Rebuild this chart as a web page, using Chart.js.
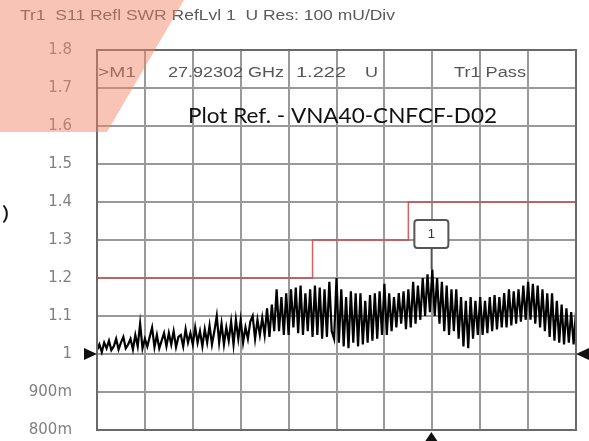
<!DOCTYPE html>
<html>
<head>
<meta charset="utf-8">
<script src="https://cdn.jsdelivr.net/npm/chart.js@4.4.1/dist/chart.umd.min.js"></script>
<style>
  html, body { margin: 0; padding: 0; background: #fff; }
  #wrap { width: 589px; height: 441px; position: relative; }
</style>
</head>
<body>
<div id="wrap"><canvas id="swrChart"></canvas></div>
<script>
// sweep: 0..40 GHz, 201 points
const startGHz = 0;
const stepGHz = 0.2;
const swr = [
  1.01, 1.025, 1.005, 1.03, 1.015,    1.035, 1.01, 1.02, 1.04, 1.012,
  1.03, 1.045, 1.015, 1.025, 1.04,    1.012, 1.05, 1.02, 1.08, 1.015,
  1.04, 1.02, 1.045, 1.07, 1.018,     1.05, 1.015, 1.035, 1.055, 1.02,
  1.055, 1.025, 1.06, 1.018, 1.045,   1.05, 1.02, 1.065, 1.03, 1.055,
  1.025, 1.07, 1.03, 1.06, 1.02,      1.065, 1.03, 1.075, 1.025, 1.06,
  1.1, 1.03, 1.08, 1.025, 1.07,       1.035, 1.085, 1.025, 1.09, 1.04,
  1.09, 1.03, 1.07, 1.04, 1.085,      1.1, 1.04, 1.09, 1.05, 1.095,
  1.05, 1.12, 1.045, 1.13, 1.06,      1.17, 1.06, 1.15, 1.05, 1.16,
  1.05, 1.17, 1.07, 1.175, 1.055,     1.18, 1.05, 1.16, 1.06, 1.17,
  1.045, 1.18, 1.05, 1.175, 1.04,     1.17, 1.045, 1.19, 1.06, 1.04,
  1.2, 1.03, 1.17, 1.02, 1.15,        1.015, 1.165, 1.03, 1.16, 1.02,
  1.16, 1.025, 1.14, 1.03, 1.155,     1.035, 1.16, 1.04, 1.165, 1.05,
  1.185, 1.05, 1.16, 1.06, 1.15,      1.07, 1.16, 1.08, 1.165, 1.065,
  1.17, 1.07, 1.19, 1.08, 1.18,       1.09, 1.2, 1.1, 1.21, 1.11,
  1.222, 1.1, 1.2, 1.08, 1.19,        1.06, 1.18, 1.05, 1.17, 1.06,
  1.17, 1.04, 1.15, 1.02, 1.14,       1.015, 1.15, 1.04, 1.14, 1.05,
  1.15, 1.05, 1.14, 1.055, 1.15,      1.06, 1.155, 1.065, 1.15, 1.07,
  1.16, 1.07, 1.17, 1.075, 1.165,     1.08, 1.17, 1.085, 1.18, 1.09,
  1.19, 1.09, 1.185, 1.08, 1.18,      1.07, 1.17, 1.06, 1.16, 1.045,
  1.16, 1.035, 1.14, 1.03, 1.13,      1.025, 1.12, 1.03, 1.11, 1.025,
  1.11
];

// SWR limit line (stepped)
const limitGHz = [0, 18, 18, 26, 26, 40];
const limitSwr = [1.2, 1.2, 1.3, 1.3, 1.4, 1.4];

const yTickLabels = ['800m', '900m', '1', '1.1', '1.2', '1.3', '1.4', '1.5', '1.6', '1.7', '1.8'];

const markerGHz = 27.92302;
const markerSwr = 1.222;
const refLevel = 1;

const headerText = 'Tr1  S11 Refl SWR RefLvl 1  U Res: 100 mU/Div';
const plotRefText = 'Plot Ref. - VNA40-CNFCF-D02';

// draw text squeezed/stretched to a given width
function fitText(ctx, text, x, y, width, font, color, baseline) {
  ctx.save();
  ctx.font = font;
  ctx.fillStyle = color;
  ctx.textAlign = 'left';
  ctx.textBaseline = baseline || 'middle';
  const w = ctx.measureText(text).width;
  ctx.translate(x, y);
  ctx.scale(width / w, 1);
  ctx.fillText(text, 0, 0);
  ctx.restore();
}

function tri(ctx, pts, color) {
  ctx.beginPath();
  ctx.moveTo(pts[0][0], pts[0][1]);
  ctx.lineTo(pts[1][0], pts[1][1]);
  ctx.lineTo(pts[2][0], pts[2][1]);
  ctx.closePath();
  ctx.fillStyle = color;
  ctx.fill();
}

const vnaOverlay = {
  id: 'vnaOverlay',
  afterDraw(chart) {
    const ctx = chart.ctx;
    const a = chart.chartArea;
    const xs = chart.scales.x, ys = chart.scales.y;

    // frame
    ctx.save();
    ctx.strokeStyle = '#6a6a6a';
    ctx.lineWidth = 2;
    ctx.strokeRect(a.left, a.top, a.right - a.left, a.bottom - a.top);

    // ref level arrows + marker stimulus arrow
    const yRef = ys.getPixelForValue(refLevel);
    tri(ctx, [[a.left - 13, yRef - 6], [a.left, yRef], [a.left - 13, yRef + 6]], '#111');
    tri(ctx, [[a.right + 13, yRef - 6], [a.right, yRef], [a.right + 13, yRef + 6]], '#111');
    const xm = xs.getPixelForValue(markerGHz);
    tri(ctx, [[xm - 6, a.bottom + 11], [xm, a.bottom + 2], [xm + 6, a.bottom + 11]], '#111');

    // marker "1" box
    const yPeak = ys.getPixelForValue(markerSwr);
    const yBox = ys.getPixelForValue(1.316);
    ctx.strokeStyle = '#555';
    ctx.lineWidth = 1.5;
    ctx.beginPath();
    ctx.moveTo(xm, yBox + 14);
    ctx.lineTo(xm, yPeak);
    ctx.stroke();
    ctx.fillStyle = '#fff';
    ctx.lineWidth = 2;
    ctx.beginPath();
    ctx.roundRect(xm - 17, yBox - 14, 34, 28, 3);
    ctx.fill();
    ctx.stroke();
    ctx.font = '13px "Liberation Sans"';
    ctx.fillStyle = '#333';
    ctx.textAlign = 'center';
    ctx.textBaseline = 'middle';
    ctx.fillText('1', xm, yBox + 1);
    ctx.restore();

    // header + marker readout
    fitText(ctx, headerText, 20, 16, 375, '15px "Liberation Sans"', '#5a5a5a');
    const rowY = 73;
    const f = '14px "Liberation Sans"', c = '#555';
    fitText(ctx, '>M1', 98, rowY, 38, f, c);
    fitText(ctx, '27.92302 GHz', 168, rowY, 116, f, c);
    fitText(ctx, '1.222', 296, rowY, 50, f, c);
    fitText(ctx, 'U', 365, rowY, 13, f, c);
    fitText(ctx, 'Tr1 Pass', 454, rowY, 72, f, c);

    // annotation
    fitText(ctx, plotRefText, 188, 123, 309, '21px Lato', '#111', 'alphabetic');
    fitText(ctx, ')', 2, 220, 7, '19px Lato', '#111', 'alphabetic');

    // salmon corner overlay
    ctx.save();
    ctx.beginPath();
    ctx.moveTo(0, 0);
    ctx.lineTo(184, 0);
    ctx.lineTo(107, 132);
    ctx.lineTo(0, 132);
    ctx.closePath();
    ctx.fillStyle = 'rgba(238, 132, 100, 0.48)';
    ctx.fill();
    ctx.restore();
  }
};

new Chart(document.getElementById('swrChart'), {
  type: 'line',
  data: {
    datasets: [
      {
        label: 'Limit',
        data: limitGHz.map((g, i) => ({ x: g, y: limitSwr[i] })),
        borderColor: 'rgba(205, 70, 70, 0.85)',
        borderWidth: 1.5,
        pointRadius: 0,
        tension: 0
      },
      {
        label: 'Tr1 S11 SWR',
        data: swr.map((v, i) => ({ x: startGHz + i * stepGHz, y: v })),
        borderColor: '#000',
        borderWidth: 2.2,
        pointRadius: 0,
        tension: 0
      }
    ]
  },
  options: {
    responsive: true,
    maintainAspectRatio: false,
    animation: false,
    layout: { padding: { left: 0, top: 50, right: 13, bottom: 11 } },
    plugins: { legend: { display: false }, tooltip: { enabled: false } },
    scales: {
      x: {
        type: 'linear',
        min: 0,
        max: 40,
        ticks: { display: false, stepSize: 4 },
        grid: { color: '#999', lineWidth: 2, drawTicks: false },
        border: { display: false },
        afterFit(scale) { scale.height = 0; }
      },
      y: {
        min: 0.8,
        max: 1.8,
        ticks: {
          stepSize: 0.1,
          padding: 0,
          color: '#808080',
          font: { family: 'DejaVu Sans', size: 15 },
          callback: (v, i) => yTickLabels[i]
        },
        grid: {
          color: '#999', lineWidth: 2,
          drawTicks: true, tickLength: 25, tickColor: 'rgba(0,0,0,0)'
        },
        border: { display: false },
        afterFit(scale) { scale.width = 97; }
      }
    }
  },
  plugins: [vnaOverlay]
});
</script>
</body>
</html>
